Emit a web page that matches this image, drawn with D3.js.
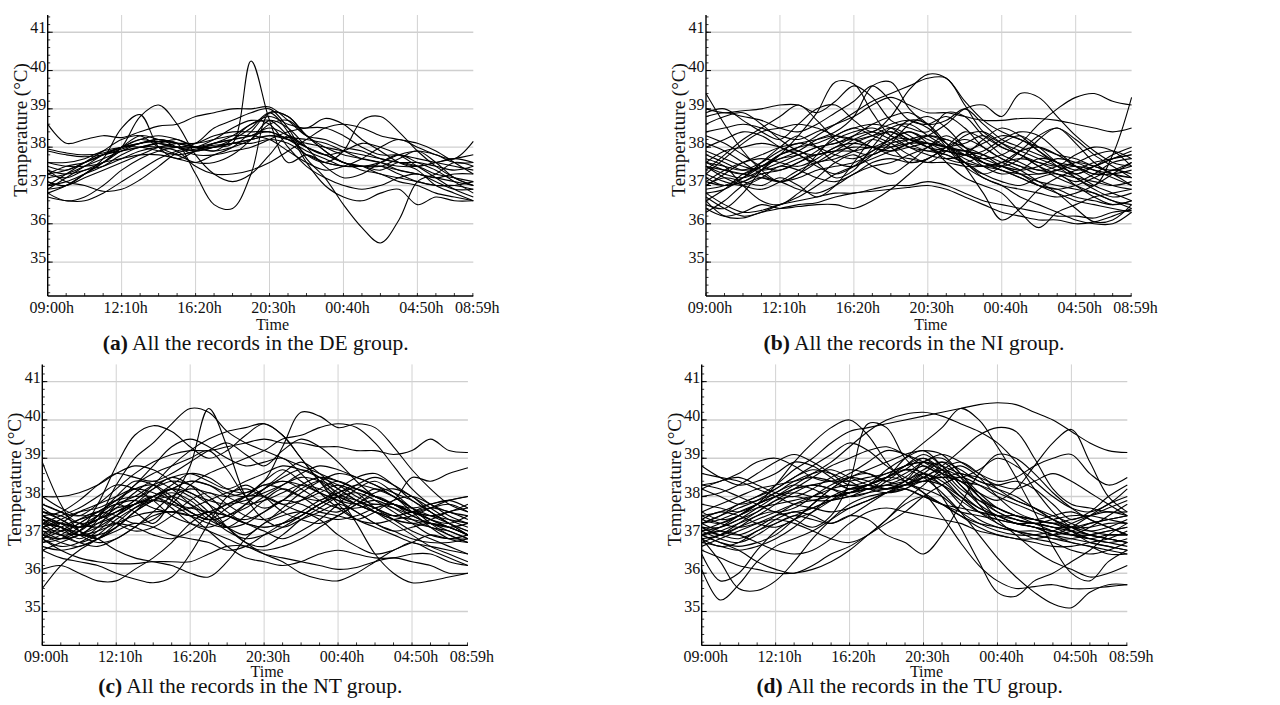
<!DOCTYPE html>
<html>
<head>
<meta charset="utf-8">
<script src="https://cdn.jsdelivr.net/npm/d3@7"></script>
<style>
  html, body { margin: 0; padding: 0; background: #fff; }
  svg { display: block; }
</style>
</head>
<body>
<svg id="chart" width="1280" height="705"></svg>
<script>
// Sample positions (record index, 0..1439 = 09:00h .. 08:59h)
const sampleIdx = [0,62.5,125,187.5,250,312.5,375,437.5,500,562.5,625,687.5,750,812.5,875,937.5,1000,1062.5,1125,1187.5,1250,1312.5,1375,1439];

const xTickIdx = [0,250,500,750,1000,1250,1439];
const xTickLabels = ["09:00h","12:10h","16:20h","20:30h","00:40h","04:50h","08:59h"];
const yTicks = [35,36,37,38,39,40,41];

// DE group
const deRecords = [
  [38.6,38.1,38.2,38.3,38.25,38.4,38.55,38.6,38.8,38.9,39.0,39.0,39.05,38.7,38.3,38.2,38.0,37.9,37.7,37.6,37.5,37.6,37.7,37.6],
  [37.3,37.4,37.6,37.8,37.9,38.0,38.1,38.0,37.9,38.0,38.1,40.25,38.7,37.6,37.8,37.6,37.5,37.5,37.4,37.6,37.5,37.3,37.2,37.1],
  [37.1,37.0,37.3,37.6,38.0,38.3,38.2,38.1,37.3,36.5,36.4,37.3,38.9,38.8,38.3,38.0,37.8,37.7,37.6,37.4,37.3,37.2,37.1,37.0],
  [37.5,37.4,37.6,37.8,38.0,38.2,38.1,38.0,38.1,38.5,38.7,38.9,39.0,38.5,37.7,37.2,36.5,35.9,35.5,36.1,37.1,37.3,37.6,37.5],
  [36.8,37.0,37.3,37.6,38.0,38.8,39.1,38.6,37.8,37.3,37.1,37.3,37.8,38.3,38.0,37.8,37.6,37.5,37.3,37.2,37.1,37.0,37.0,36.9],
  [36.9,37.0,37.3,37.7,38.5,38.85,38.0,37.7,37.9,38.1,38.2,38.3,38.5,38.3,38.0,37.8,37.9,38.1,38.0,37.8,37.5,37.2,36.9,36.7],
  [37.4,37.1,37.0,36.85,36.9,37.15,37.5,37.85,37.95,38.0,38.1,38.2,38.3,38.2,38.1,38.0,37.9,37.8,37.7,37.6,37.6,37.5,37.4,37.5],
  [36.7,36.6,36.6,36.8,37.1,37.4,37.7,37.9,38.0,38.1,38.2,38.3,38.4,38.2,38.0,37.8,37.6,37.4,37.3,37.1,37.0,36.8,36.7,36.6],
  [37.95,37.85,37.8,37.85,38.0,38.1,38.15,38.1,38.0,38.05,38.1,38.2,38.3,38.25,38.2,38.1,37.9,37.7,37.6,37.5,37.5,37.6,37.7,37.8],
  [37.9,37.8,37.75,37.8,37.95,38.1,38.2,38.1,38.1,38.3,38.4,38.4,38.4,38.2,37.9,37.7,37.5,37.5,37.5,37.4,37.3,37.2,37.3,37.3],
  [37.3,37.5,37.6,37.8,38.0,38.2,38.3,38.2,38.0,37.9,38.0,38.2,38.6,38.7,38.3,37.9,37.6,37.5,37.5,37.7,37.9,37.6,37.2,37.0],
  [37.2,37.3,37.5,37.7,37.9,38.1,38.2,38.0,37.8,37.8,37.9,38.0,38.2,38.4,38.5,38.5,38.3,38.0,37.8,37.8,37.7,37.6,37.5,37.4],
  [37.0,37.1,37.3,37.5,37.8,38.0,38.0,37.9,37.5,37.3,37.3,37.4,37.6,37.9,38.2,38.5,38.6,38.5,38.3,38.2,38.1,37.9,37.6,37.3],
  [37.6,37.5,37.5,37.6,37.9,38.0,38.1,38.2,38.0,37.9,38.2,38.6,38.7,38.3,37.8,37.6,37.9,38.7,38.8,38.4,37.9,37.5,37.2,37.0],
  [36.9,37.2,37.5,37.8,38.0,38.0,37.9,37.8,37.9,38.1,38.3,38.6,38.8,38.6,38.5,38.75,38.6,38.2,37.9,37.6,37.4,37.0,36.8,36.6],
  [37.4,37.3,37.4,37.6,37.7,37.8,37.8,37.7,37.6,37.8,38.0,38.4,38.9,38.8,38.3,37.9,37.6,37.5,37.6,37.8,37.9,37.8,37.6,37.6],
  [37.1,37.0,37.2,37.4,37.6,37.8,38.0,38.1,38.1,38.2,38.3,38.3,38.2,37.9,37.6,37.4,37.5,37.7,38.0,38.2,38.0,37.8,37.7,38.15],
  [37.3,37.2,37.4,37.5,37.7,37.9,38.0,38.0,37.9,38.0,38.2,38.5,38.9,38.4,37.6,37.0,36.7,36.6,36.8,36.9,36.5,36.7,36.6,36.6],
  [36.8,36.6,36.7,37.0,37.4,37.7,37.9,38.0,38.0,38.2,38.5,38.7,38.6,38.0,37.5,37.2,37.0,36.9,37.0,37.2,37.3,37.1,36.9,36.9],
  [37.6,37.6,37.7,37.9,38.0,38.1,38.2,38.1,38.0,38.0,38.1,38.1,38.2,38.1,37.8,37.6,37.5,37.5,37.5,37.3,37.1,37.0,37.0,37.1],
  [37.0,37.3,37.6,37.9,38.2,38.3,38.0,37.8,37.6,37.6,37.8,38.2,38.7,38.5,38.0,37.5,37.2,37.3,37.6,37.8,37.6,37.4,37.1,36.8]
];

// NI group
const niRecords = [
  [39.4,38.6,37.9,37.4,37.1,37.3,37.6,37.9,38.2,38.4,38.6,38.7,38.5,38.1,37.8,37.6,37.4,37.2,37.0,36.9,36.7,36.6,36.5,36.6],
  [39.0,38.9,38.95,39.0,39.1,39.1,38.9,39.2,39.6,39.3,38.7,38.5,38.4,38.9,38.8,38.3,38.0,37.8,37.5,37.2,37.0,36.8,36.6,36.4],
  [38.9,39.0,38.7,38.4,38.2,38.6,39.0,39.1,38.7,38.4,38.8,39.5,39.9,39.8,39.2,38.7,38.4,38.2,38.0,37.8,37.7,37.5,37.4,37.5],
  [36.6,36.2,36.15,36.3,36.4,36.5,36.55,36.7,36.8,36.85,36.9,36.95,37.0,36.9,36.7,36.5,36.3,36.2,36.1,36.1,36.0,36.05,36.2,36.4],
  [36.8,36.5,36.3,36.35,36.5,36.6,36.7,36.8,36.8,36.9,37.0,37.0,37.1,37.0,36.8,36.6,36.5,36.4,36.3,36.2,36.2,36.15,36.3,36.35],
  [36.4,36.2,36.3,36.5,36.4,36.45,36.5,36.5,36.4,36.6,36.9,37.3,37.7,37.9,37.6,37.2,37.0,36.7,36.5,36.3,36.1,36.0,36.0,36.3],
  [37.2,37.0,37.1,37.4,37.8,38.3,38.9,39.7,39.65,38.9,38.3,38.2,38.0,37.9,37.8,37.6,37.5,37.4,37.5,37.7,37.6,37.4,37.2,37.0],
  [37.6,37.4,37.3,37.5,37.7,37.9,38.2,38.4,38.8,39.6,39.7,39.0,38.6,38.7,39.0,38.6,38.2,38.0,37.8,37.6,37.5,37.3,37.3,37.4],
  [36.9,37.0,37.2,37.5,37.8,38.0,38.3,38.6,38.9,39.2,39.4,39.6,39.8,39.8,39.1,38.4,38.1,37.9,37.7,37.5,37.3,37.0,36.8,36.6],
  [37.5,37.3,37.2,37.4,37.6,37.8,38.0,38.1,38.2,38.0,37.9,38.1,38.3,38.6,39.0,39.1,38.8,39.4,39.3,38.8,38.3,37.9,37.6,37.5],
  [37.0,37.3,37.6,37.8,38.0,38.1,38.2,38.3,38.2,38.0,37.9,38.0,38.1,38.0,37.8,37.7,37.8,38.1,38.6,39.0,39.3,39.4,39.2,39.1],
  [37.6,37.5,37.4,37.6,37.9,38.1,38.0,37.8,37.7,37.9,38.2,38.4,38.2,38.0,37.9,38.1,38.3,38.2,37.9,37.5,37.2,37.0,37.8,39.3],
  [38.4,38.5,38.6,38.5,38.3,38.2,38.4,38.6,38.8,39.1,39.3,39.1,38.9,38.9,38.8,38.7,38.7,38.75,38.75,38.7,38.6,38.5,38.4,38.5],
  [37.1,37.0,37.1,37.3,37.4,37.6,37.8,37.9,38.0,38.0,38.2,38.4,38.1,37.6,37.2,37.0,36.8,36.3,35.9,36.3,36.5,36.7,36.8,36.9],
  [37.5,37.4,37.3,37.2,37.1,37.2,37.4,37.5,37.6,37.8,38.0,38.2,38.3,38.1,37.5,36.8,36.1,36.4,36.9,37.2,37.4,37.6,37.7,37.8],
  [37.9,37.7,37.5,37.4,37.5,37.7,37.8,37.9,37.9,38.0,38.0,38.1,38.1,38.0,37.9,37.8,37.6,37.4,37.1,36.8,36.4,36.05,36.1,36.5],
  [38.0,38.2,38.4,38.3,38.0,37.8,37.6,37.8,38.1,38.3,38.5,38.3,38.0,37.8,37.6,37.5,37.6,37.9,38.0,37.8,37.5,37.3,37.4,37.6],
  [37.7,37.5,37.0,36.6,36.5,36.8,37.2,37.6,37.8,37.5,37.3,37.6,38.0,38.3,38.0,37.6,37.5,37.7,38.2,38.5,38.1,37.6,37.3,37.2],
  [36.5,36.4,36.8,37.4,37.8,38.0,38.1,38.3,38.5,38.3,38.1,37.8,37.6,37.9,38.3,38.4,38.1,37.8,37.6,37.4,37.3,37.5,37.8,38.0],
  [37.3,37.7,38.1,38.4,38.5,38.6,38.5,38.3,38.2,38.3,38.4,38.2,38.0,37.7,37.6,37.8,38.1,38.3,38.0,37.6,37.3,37.5,37.7,37.8],
  [37.0,37.2,37.1,37.0,37.2,37.0,36.7,37.0,37.6,38.2,38.4,38.1,37.9,38.0,38.1,38.3,38.0,37.8,37.5,37.3,37.1,37.3,37.6,37.7],
  [38.1,37.9,37.6,37.3,37.1,37.3,37.8,38.3,38.5,38.6,38.5,38.2,38.1,38.0,37.9,37.7,37.5,37.3,37.0,36.8,36.6,36.5,36.4,36.3],
  [37.8,37.6,37.4,37.5,37.8,37.9,37.6,37.2,37.4,38.0,38.5,38.6,38.3,38.0,37.7,37.5,37.4,37.2,37.0,36.9,37.0,37.2,37.4,37.3],
  [36.8,36.9,37.2,37.6,38.0,38.3,38.0,37.6,37.5,37.8,38.3,38.7,38.6,38.1,37.6,37.3,37.5,37.9,38.3,38.5,38.2,37.8,37.5,37.2],
  [37.5,37.2,37.0,36.9,37.1,37.4,37.6,37.7,37.9,38.2,38.0,37.6,37.7,38.0,38.4,38.2,37.8,37.6,37.4,37.5,37.8,38.0,37.9,37.5],
  [36.6,36.9,37.3,37.5,37.7,37.8,38.0,38.1,38.3,38.4,38.2,38.0,37.9,37.8,37.6,37.3,37.1,37.0,37.2,37.3,37.0,36.7,36.5,36.6],
  [38.3,38.1,37.8,37.5,37.4,37.6,37.9,38.2,38.4,38.5,38.3,38.0,37.8,37.7,37.8,38.2,38.5,38.3,37.9,37.6,37.4,37.5,37.7,37.9],
  [37.3,37.1,37.0,37.2,37.5,37.4,37.2,37.1,37.3,37.6,37.7,37.6,37.7,38.0,38.2,38.0,37.7,37.5,37.3,37.4,37.6,37.5,37.3,37.0],
  [36.3,36.6,37.0,37.2,37.1,36.9,36.8,37.0,37.3,37.5,37.6,37.8,38.0,38.2,37.9,37.5,37.3,37.4,37.7,37.6,37.2,36.9,36.7,36.8],
  [38.6,38.8,38.9,38.6,38.2,37.9,37.8,38.0,38.3,38.6,38.8,38.9,38.6,38.0,37.5,37.2,37.0,36.9,36.8,36.7,36.8,37.0,37.3,37.6],
  [37.6,37.9,38.0,38.1,38.0,37.8,37.5,37.3,37.5,37.9,38.1,38.2,38.1,37.9,37.8,37.9,38.2,38.4,38.3,37.9,37.5,37.2,37.0,36.9],
  [37.1,37.4,37.6,37.7,37.6,37.5,37.7,38.0,38.1,38.0,37.8,37.7,37.6,37.6,37.5,37.5,37.6,37.7,37.6,37.5,37.6,37.8,37.9,37.7],
  [36.7,36.4,36.2,36.3,36.5,36.7,37.0,37.3,37.5,37.7,37.9,38.1,38.3,38.2,38.0,37.8,37.5,37.3,37.1,37.0,36.9,36.8,36.6,36.5],
  [37.4,37.8,38.2,38.5,38.8,39.1,38.7,38.2,37.9,37.8,38.1,38.6,38.8,38.5,38.0,37.6,37.4,37.3,37.3,37.4,37.5,37.4,37.3,37.2],
  [38.8,38.9,38.8,38.7,38.5,38.4,38.6,38.9,39.2,39.6,39.2,38.7,38.6,38.8,38.5,38.0,37.7,37.5,37.4,37.3,37.2,37.1,37.0,37.1]
];

// NT group
const ntRecords = [
  [38.9,37.8,37.1,36.9,37.2,37.6,37.9,38.2,38.1,37.8,37.5,37.3,37.2,37.3,37.5,37.8,38.0,37.9,37.7,37.5,37.4,37.3,37.1,36.9],
  [35.6,36.2,36.6,36.9,37.3,37.7,38.0,38.2,38.4,38.3,38.0,37.8,37.9,38.1,38.3,38.2,38.0,37.8,37.6,37.5,37.6,37.7,37.6,37.4],
  [36.1,36.2,36.0,35.8,35.8,36.1,36.4,36.8,37.3,37.6,37.5,37.4,37.6,37.9,38.2,38.4,38.2,37.9,37.6,37.3,37.0,36.7,36.5,36.3],
  [36.6,36.4,36.3,36.2,36.0,35.85,35.75,35.9,36.5,37.3,38.0,38.3,38.0,37.6,37.4,37.3,37.5,37.8,38.0,37.8,37.5,37.3,37.2,37.0],
  [36.9,36.6,36.4,36.3,36.25,36.25,36.3,36.3,36.3,36.5,36.7,36.7,36.5,36.4,36.3,36.2,36.1,36.15,36.3,36.4,36.3,36.2,36.0,36.0],
  [37.3,37.2,37.0,37.4,38.3,39.0,39.4,39.9,40.3,40.2,39.7,39.4,39.2,39.0,38.8,38.6,38.4,38.2,38.0,37.8,37.6,37.5,37.4,37.3],
  [37.0,36.9,37.1,37.5,37.8,37.6,37.3,37.9,38.8,40.3,39.3,38.0,37.4,37.2,37.4,37.6,37.8,37.6,37.3,37.1,36.9,36.8,36.8,36.9],
  [37.2,37.0,37.1,37.8,38.8,39.6,39.85,39.7,39.3,39.0,39.2,39.6,39.9,39.6,39.0,38.4,38.0,37.8,37.6,37.4,37.3,37.4,37.6,37.7],
  [37.4,37.3,37.2,37.4,37.6,37.8,38.0,38.3,38.6,38.5,38.2,38.1,38.4,39.3,40.2,40.1,39.8,39.9,39.8,39.3,38.7,38.2,37.8,37.6],
  [37.8,37.6,37.5,37.8,38.2,38.6,38.9,39.1,39.2,39.2,39.3,39.4,39.5,39.4,39.4,39.3,39.3,39.2,39.2,39.1,39.2,39.5,39.2,39.15],
  [37.5,37.3,37.2,37.4,37.8,38.0,38.3,38.5,38.6,38.4,38.2,38.4,38.6,38.8,38.7,38.5,38.3,38.0,37.8,37.9,38.5,38.4,38.6,38.75],
  [37.3,37.2,37.0,37.0,37.2,37.6,38.0,38.2,38.0,37.6,37.2,36.8,36.5,36.3,36.0,35.85,35.8,36.0,36.3,36.6,36.8,37.0,36.9,37.0],
  [36.8,36.9,37.2,37.5,37.7,37.8,38.0,38.2,38.4,38.3,38.1,38.0,38.2,38.5,38.7,38.5,38.0,37.3,36.5,36.0,35.75,35.8,35.9,36.0],
  [37.6,37.4,37.1,36.9,36.6,36.4,36.3,36.2,36.0,35.9,36.3,36.9,37.3,37.5,37.6,37.4,37.0,36.7,36.5,36.6,36.8,36.6,36.4,36.2],
  [37.5,37.2,36.9,37.2,37.8,38.3,38.6,38.8,39.0,39.2,38.7,38.0,37.7,37.9,38.3,38.5,38.4,38.2,38.0,37.8,37.6,37.5,37.6,37.8],
  [37.0,37.3,37.6,37.8,38.0,38.2,38.1,37.9,37.6,37.4,37.5,37.7,38.0,38.3,38.6,38.8,38.7,38.5,38.3,38.0,37.7,37.5,37.3,37.1],
  [37.3,37.0,36.8,37.0,37.4,37.7,37.9,38.0,37.8,37.5,37.2,37.0,37.3,37.7,38.1,38.4,38.6,38.5,38.3,38.1,37.9,37.6,37.3,37.0],
  [37.1,36.9,37.0,37.3,37.6,37.9,38.3,38.8,39.2,39.5,39.7,39.8,39.9,39.6,39.0,38.4,37.8,37.4,37.2,37.0,36.8,36.7,36.6,36.5],
  [36.9,37.1,37.4,37.6,37.5,37.3,37.4,37.8,38.3,38.6,38.8,39.0,39.2,39.5,39.6,39.8,39.9,39.8,39.4,38.8,38.2,37.8,37.6,37.5],
  [38.0,38.0,38.1,38.3,38.6,38.8,38.7,38.4,38.1,37.9,37.8,37.9,38.1,38.3,38.5,38.4,38.1,37.8,37.6,37.4,37.3,37.2,37.0,36.8],
  [37.7,37.4,37.2,37.3,37.5,37.8,38.2,38.5,38.3,37.8,37.2,36.8,36.7,37.0,37.4,37.7,38.0,38.3,38.5,38.3,38.0,37.7,37.4,37.2],
  [37.4,37.1,37.0,37.1,37.3,37.5,37.6,37.6,37.5,37.6,37.8,38.0,38.3,38.2,38.0,37.9,38.2,38.5,38.6,38.3,37.9,37.6,37.3,37.0],
  [37.2,37.3,37.2,37.4,37.6,37.8,37.9,37.8,37.7,37.6,37.5,37.3,37.2,37.3,37.5,37.8,38.1,38.2,38.0,37.8,37.6,37.4,37.2,37.0],
  [36.6,36.8,37.0,37.2,37.5,37.8,38.0,37.7,37.3,37.1,36.9,36.7,36.6,36.7,36.9,37.2,37.5,37.8,38.1,38.2,38.0,37.6,37.3,37.1],
  [37.6,37.5,37.3,37.4,37.7,38.1,38.4,38.2,37.8,37.4,37.2,37.3,37.6,37.9,37.8,37.6,37.5,37.4,37.6,37.9,38.0,37.8,37.5,37.3],
  [36.9,36.7,36.8,37.1,37.5,37.9,38.2,38.4,38.3,38.0,37.6,37.3,37.1,36.9,37.1,37.4,37.8,38.2,38.4,38.1,37.7,37.4,37.2,37.0],
  [37.3,37.5,37.7,38.0,38.3,38.2,37.9,37.5,37.3,37.2,37.4,37.8,38.2,38.6,38.9,38.6,38.2,37.9,37.7,37.5,37.6,37.8,37.9,38.0],
  [37.8,37.6,37.3,37.2,37.3,37.2,37.0,36.9,37.1,37.5,37.8,38.0,38.0,37.8,37.6,37.5,37.4,37.5,37.7,37.8,37.6,37.4,37.3,37.5],
  [37.1,37.0,36.8,36.7,36.9,37.2,37.5,37.6,37.5,37.3,37.2,37.5,37.9,38.2,38.0,37.7,37.6,37.9,38.2,38.0,37.6,37.2,36.9,36.8],
  [37.4,37.2,37.1,37.5,38.0,38.4,38.3,37.9,37.6,37.4,37.7,38.0,38.4,38.7,38.4,38.1,37.9,37.8,37.9,37.7,37.4,37.2,37.1,36.9],
  [37.5,37.6,37.9,38.3,38.6,38.5,38.4,38.6,38.9,39.2,39.4,39.1,38.8,39.2,39.5,39.3,38.9,38.4,38.0,37.8,37.6,37.7,37.8,37.6],
  [36.7,36.6,36.7,36.9,37.1,37.3,37.2,37.0,36.9,36.8,36.6,36.7,37.0,37.3,37.6,37.9,38.1,38.3,38.2,38.0,37.7,37.3,37.0,36.8],
  [37.2,37.4,37.6,37.7,37.9,38.0,38.0,37.8,37.5,37.1,36.7,36.4,36.3,36.2,36.3,36.5,36.6,36.5,36.4,36.4,36.5,36.5,36.3,36.2],
  [38.0,37.7,37.5,37.6,37.9,38.2,38.3,38.0,37.6,37.4,37.5,37.8,38.2,38.4,38.2,37.9,37.7,37.7,37.8,37.7,37.5,37.3,37.2,37.3],
  [36.8,37.0,37.3,37.6,37.9,38.3,38.8,39.3,39.5,39.3,39.0,38.8,38.9,39.0,38.6,38.1,37.7,37.4,37.3,37.4,37.5,37.7,37.9,38.0],
  [37.5,37.3,37.0,36.8,36.9,37.2,37.6,38.0,38.2,38.1,38.0,38.1,38.3,38.4,38.3,38.1,37.9,37.6,37.3,37.1,37.2,37.3,37.2,37.0],
  [37.0,36.8,36.7,36.9,37.2,37.6,37.9,38.1,37.9,37.5,37.1,36.9,37.0,37.2,37.5,37.8,38.0,38.1,37.9,37.6,37.3,37.0,36.9,36.9],
  [37.2,37.1,37.3,37.6,37.8,37.9,37.7,37.6,37.7,37.9,38.1,38.2,38.0,37.8,37.9,38.1,38.3,38.1,37.7,37.4,37.1,36.9,36.7,36.5],
  [36.9,37.2,37.4,37.5,37.3,37.1,37.2,37.5,37.9,38.1,37.8,37.5,37.4,37.6,37.9,38.2,38.4,38.2,38.0,37.8,37.7,37.8,37.9,37.7]
];

// TU group
const tuRecords = [
  [36.1,35.3,35.7,36.3,36.7,36.9,37.1,37.4,37.7,37.9,38.1,38.3,38.6,38.4,38.0,37.6,37.3,37.1,37.0,36.9,36.9,37.0,37.1,37.2],
  [36.9,36.3,35.6,35.55,35.8,36.3,36.9,37.4,37.8,38.0,38.1,38.2,38.4,38.3,38.0,37.7,37.5,37.3,37.2,37.1,37.0,36.9,36.8,36.7],
  [36.5,35.8,36.0,36.6,37.1,37.4,37.6,37.9,38.2,38.3,38.5,38.8,39.1,38.8,38.3,37.8,37.5,37.3,37.2,37.0,36.8,36.7,36.6,36.5],
  [37.0,36.8,36.6,36.3,36.1,36.0,36.2,36.5,36.7,37.0,37.3,37.6,38.0,38.3,38.5,38.3,38.0,37.8,37.6,37.4,37.2,37.0,36.9,36.8],
  [38.8,38.5,38.3,38.4,38.6,38.9,38.8,38.5,38.2,38.3,38.7,39.0,39.2,38.8,38.3,37.9,37.6,37.4,37.3,37.2,37.2,37.3,37.4,37.5],
  [37.4,37.3,37.5,37.8,38.3,38.9,39.4,39.8,40.0,39.6,38.9,38.4,38.1,37.8,37.5,37.3,37.2,37.1,37.1,37.0,37.1,37.3,37.4,37.5],
  [37.2,37.0,37.2,37.5,37.6,37.4,37.2,37.5,38.4,39.9,39.8,39.0,38.6,38.5,38.6,38.4,38.2,38.0,37.7,37.4,37.2,37.1,37.2,37.4],
  [37.1,37.2,37.4,37.7,38.0,38.3,38.6,38.9,39.3,39.7,40.0,40.15,40.2,40.1,39.9,39.7,39.4,38.9,38.2,37.6,37.2,37.0,36.9,36.8],
  [37.5,37.6,37.8,38.0,38.2,38.5,38.7,38.6,38.4,38.2,38.5,39.0,39.4,39.8,40.3,40.0,39.3,38.5,37.6,36.7,36.0,35.8,36.3,36.6],
  [37.3,37.5,37.8,38.0,38.3,38.7,39.0,39.4,39.7,39.8,39.9,40.0,40.1,40.2,40.3,40.4,40.45,40.4,40.2,40.0,39.7,39.4,39.2,39.15],
  [38.3,38.2,38.0,37.8,37.6,37.7,38.0,38.3,38.5,38.4,38.2,38.3,38.5,38.8,39.2,39.6,39.8,39.7,39.0,38.2,37.8,37.7,37.6,37.6],
  [37.0,37.2,37.5,37.8,38.0,38.2,38.3,38.4,38.4,38.5,38.6,38.8,38.9,38.7,38.4,38.1,37.9,38.2,38.8,39.4,39.75,38.9,38.0,37.6],
  [37.2,37.0,36.9,37.1,37.4,37.6,37.5,37.3,37.5,37.4,37.0,36.8,36.5,37.0,37.8,38.6,39.1,39.0,38.6,38.1,37.7,37.4,37.2,37.0],
  [37.6,37.4,37.5,37.8,38.0,38.2,38.3,38.2,38.0,38.1,38.4,38.7,38.6,38.0,37.2,36.3,35.5,35.4,35.8,36.0,36.3,36.6,37.0,37.3],
  [37.8,37.7,37.6,37.8,38.1,38.3,38.2,38.0,38.1,38.3,38.5,38.7,38.5,38.1,37.6,37.0,36.4,35.9,35.5,35.2,35.1,35.5,35.7,35.7],
  [36.8,37.0,37.2,37.4,37.6,37.8,37.9,38.0,38.1,38.3,38.5,38.4,38.1,37.5,36.8,36.2,35.8,35.6,35.65,35.7,35.6,35.6,35.65,35.7],
  [37.3,37.1,37.0,37.2,37.5,37.8,38.0,38.2,38.3,38.2,38.1,38.2,38.5,38.7,38.5,38.0,37.4,37.0,36.6,36.3,36.1,35.9,36.0,36.2],
  [38.2,38.4,38.5,38.3,38.1,38.0,38.2,38.5,38.7,38.6,38.4,38.6,38.9,39.1,38.9,38.6,38.4,38.5,38.8,39.0,39.1,38.6,38.3,38.5],
  [37.0,37.1,37.3,37.5,37.8,38.1,38.3,38.2,38.1,38.2,38.3,38.5,38.8,38.5,38.0,37.6,37.4,37.3,37.2,37.1,37.0,37.0,37.1,37.2],
  [36.9,37.0,37.3,37.6,37.9,38.0,37.9,37.9,38.0,38.2,38.3,38.4,38.6,38.3,37.9,37.6,37.5,37.5,37.4,37.3,37.1,36.9,36.8,36.9],
  [37.3,37.4,37.6,37.8,38.0,38.1,38.0,38.0,38.1,38.2,38.2,38.4,38.9,39.0,38.6,38.0,37.7,37.5,37.4,37.3,37.2,37.2,37.3,37.3],
  [37.1,37.3,37.5,37.7,37.8,37.9,38.0,38.0,38.1,38.2,38.3,38.2,38.0,37.8,37.6,37.5,37.4,37.3,37.3,37.2,37.0,36.9,37.0,37.0],
  [36.7,36.9,37.1,37.3,37.5,37.6,37.7,37.9,38.1,38.3,38.5,38.8,39.0,38.6,38.1,37.7,37.5,37.3,37.2,37.0,36.9,36.8,36.7,36.6],
  [38.2,38.0,37.8,37.9,38.1,38.4,38.6,38.7,38.5,38.3,38.2,38.3,38.6,38.9,38.7,38.4,38.3,38.4,38.2,37.8,37.4,37.6,38.0,38.3],
  [37.5,37.3,37.2,37.3,37.4,37.3,37.1,36.9,36.8,37.0,37.4,37.9,38.3,38.7,38.9,38.6,38.2,37.9,37.7,37.4,37.1,36.8,36.7,36.6],
  [37.0,36.8,36.7,36.8,37.0,37.4,37.8,38.2,38.5,38.6,38.4,38.3,38.5,38.3,37.8,37.4,37.2,37.1,37.0,36.9,36.8,36.7,36.5,36.5],
  [38.0,38.1,38.3,38.6,38.9,39.1,38.9,38.6,38.3,38.4,38.6,38.8,38.9,38.8,38.6,38.5,38.3,38.2,38.4,38.6,38.4,38.1,37.8,37.5],
  [36.8,36.7,36.6,36.7,36.9,37.2,37.6,38.0,38.2,38.3,38.2,38.4,38.7,38.9,38.5,37.8,37.3,37.1,36.9,36.8,36.6,36.5,36.6,36.8],
  [37.2,37.2,37.4,37.6,37.9,38.2,38.5,38.8,39.0,39.2,39.3,39.1,38.9,38.6,38.4,38.3,38.1,37.9,37.7,37.5,37.3,37.1,37.0,37.0],
  [37.1,36.9,36.8,37.0,37.3,37.5,37.7,37.9,38.0,38.1,38.2,38.3,38.4,38.5,38.4,38.0,37.6,37.4,37.3,37.4,37.5,37.5,37.4,37.3],
  [37.6,37.8,38.0,38.2,38.3,38.4,38.5,38.4,38.2,38.3,38.5,38.7,39.0,38.7,38.2,37.9,37.7,37.5,37.3,37.1,37.0,37.2,37.5,37.8],
  [36.9,36.7,36.8,37.1,37.3,37.5,37.4,37.3,37.5,37.8,38.1,38.3,38.2,38.0,37.6,37.3,37.1,37.0,37.0,37.1,37.3,37.5,37.7,37.9],
  [37.4,37.6,37.5,37.3,37.2,37.4,37.8,38.2,38.5,38.7,38.9,39.1,39.2,39.1,38.6,38.1,37.7,37.5,37.4,37.5,37.6,37.4,37.2,37.0],
  [38.6,38.5,38.4,38.2,38.0,37.8,37.7,37.6,37.7,37.9,38.1,38.2,38.0,37.8,37.7,37.6,37.5,37.4,37.3,37.2,37.1,37.0,36.9,36.8],
  [37.0,37.1,37.0,36.8,36.6,36.5,36.6,36.9,37.3,37.6,37.7,37.6,37.5,37.4,37.3,37.1,37.0,36.9,36.9,37.0,37.2,37.5,37.8,38.0],
  [36.6,36.4,36.2,36.1,36.0,36.0,36.1,36.3,36.6,37.0,37.4,37.8,38.0,37.8,37.5,37.2,37.0,36.9,36.8,36.7,36.7,36.8,36.9,37.1],
  [37.3,37.5,37.7,37.9,38.2,38.5,38.8,39.1,39.4,39.2,38.8,38.5,38.4,38.6,38.8,38.5,38.0,37.6,37.4,37.3,37.4,37.5,37.6,37.5],
  [38.3,38.4,38.6,38.9,39.0,38.8,38.5,38.4,38.6,38.9,39.2,39.1,38.8,38.6,38.5,38.7,39.0,38.8,38.4,38.0,37.7,37.6,37.8,38.2]
];

// Panel placement: left = y-axis position, top = top of the frame
const panels = [
  { tag: "(a)", group: "DE", records: deRecords, left: 47.7,  top: 15,    timeDy: 34,   caption: 350 },
  { tag: "(b)", group: "NI", records: niRecords, left: 706,   top: 15,    timeDy: 34,   caption: 350 },
  { tag: "(c)", group: "NT", records: ntRecords, left: 42.3,  top: 364.4, timeDy: 32,   caption: 693 },
  { tag: "(d)", group: "TU", records: tuRecords, left: 701.7, top: 364.4, timeDy: 32,   caption: 693 }
];

const W = 425.6, H = 281;
const FONT = "Liberation Serif, Times New Roman, serif";

const svg = d3.select("#chart");

const x = d3.scaleLinear().domain([0, 1439]).range([0, W]);
const y = d3.scaleLinear().domain([34.115, 41.45]).range([H, 0]);

const line = d3.line()
  .x((d, i) => x(sampleIdx[i]))
  .y(d => y(d))
  .curve(d3.curveCatmullRom.alpha(0.5));

function label(sel, px, py, str, size, anchor) {
  return sel.append("text")
    .attr("x", px).attr("y", py)
    .attr("text-anchor", anchor)
    .attr("font-family", FONT)
    .attr("font-size", size)
    .attr("fill", "#111")
    .text(str);
}

panels.forEach(p => {
  const g = svg.append("g").attr("transform", `translate(${p.left},${p.top})`);

  // grid
  g.append("g").selectAll("line").data(yTicks).join("line")
    .attr("x1", 0).attr("x2", W)
    .attr("y1", d => y(d)).attr("y2", d => y(d))
    .attr("stroke", "#cfcfcf").attr("stroke-width", 1.4);
  g.append("g").selectAll("line").data(xTickIdx.slice(1, -1)).join("line")
    .attr("x1", d => x(d)).attr("x2", d => x(d))
    .attr("y1", 0).attr("y2", H)
    .attr("stroke", "#d2d2d2").attr("stroke-width", 1);

  // records
  g.append("g").selectAll("path").data(p.records).join("path")
    .attr("d", line)
    .attr("fill", "none")
    .attr("stroke", "#000")
    .attr("stroke-width", 1.1);

  // minor ticks
  const xMinor = d3.range(0, 1439, 62.5);
  g.append("g").selectAll("line").data(xMinor).join("line")
    .attr("x1", d => x(d)).attr("x2", d => x(d))
    .attr("y1", H).attr("y2", H - 3)
    .attr("stroke", "#000").attr("stroke-width", 0.8);
  const yMinor = d3.range(34.2, 41.45, 0.2);
  g.append("g").selectAll("line").data(yMinor).join("line")
    .attr("x1", 0).attr("x2", 2.5)
    .attr("y1", d => y(d)).attr("y2", d => y(d))
    .attr("stroke", "#000").attr("stroke-width", 0.8);
  g.append("g").selectAll("line").data(yTicks).join("line")
    .attr("x1", 0).attr("x2", 5)
    .attr("y1", d => y(d)).attr("y2", d => y(d))
    .attr("stroke", "#000").attr("stroke-width", 1);

  // frame axes
  g.append("line").attr("x1", 0).attr("x2", 0).attr("y1", 0).attr("y2", H)
    .attr("stroke", "#000").attr("stroke-width", 1.4);
  g.append("line").attr("x1", 0).attr("x2", W).attr("y1", H).attr("y2", H)
    .attr("stroke", "#000").attr("stroke-width", 1.4);

  // tick labels
  yTicks.forEach(v => label(g, -1.5, y(v) + 1, String(v), 16, "end"));
  xTickIdx.forEach((d, i) => label(g, x(d) + 4, H + 16.5, xTickLabels[i], 16, "middle"));

  // axis titles
  label(g, W / 2 + 12, H + p.timeDy, "Time", 16, "middle");
  g.append("text")
    .attr("transform", `translate(-21,${y(38.45)}) rotate(-90)`)
    .attr("text-anchor", "middle")
    .attr("font-family", FONT)
    .attr("font-size", 19)
    .attr("fill", "#111")
    .text("Temperature (°C)");

  // caption
  const ct = svg.append("text")
    .attr("x", p.left + 208).attr("y", p.caption)
    .attr("text-anchor", "middle")
    .attr("font-family", FONT)
    .attr("font-size", 21.5)
    .attr("fill", "#111");
  ct.append("tspan").attr("font-weight", "bold").text(p.tag);
  ct.append("tspan").text(` All the records in the ${p.group} group.`);
});
</script>
</body>
</html>
